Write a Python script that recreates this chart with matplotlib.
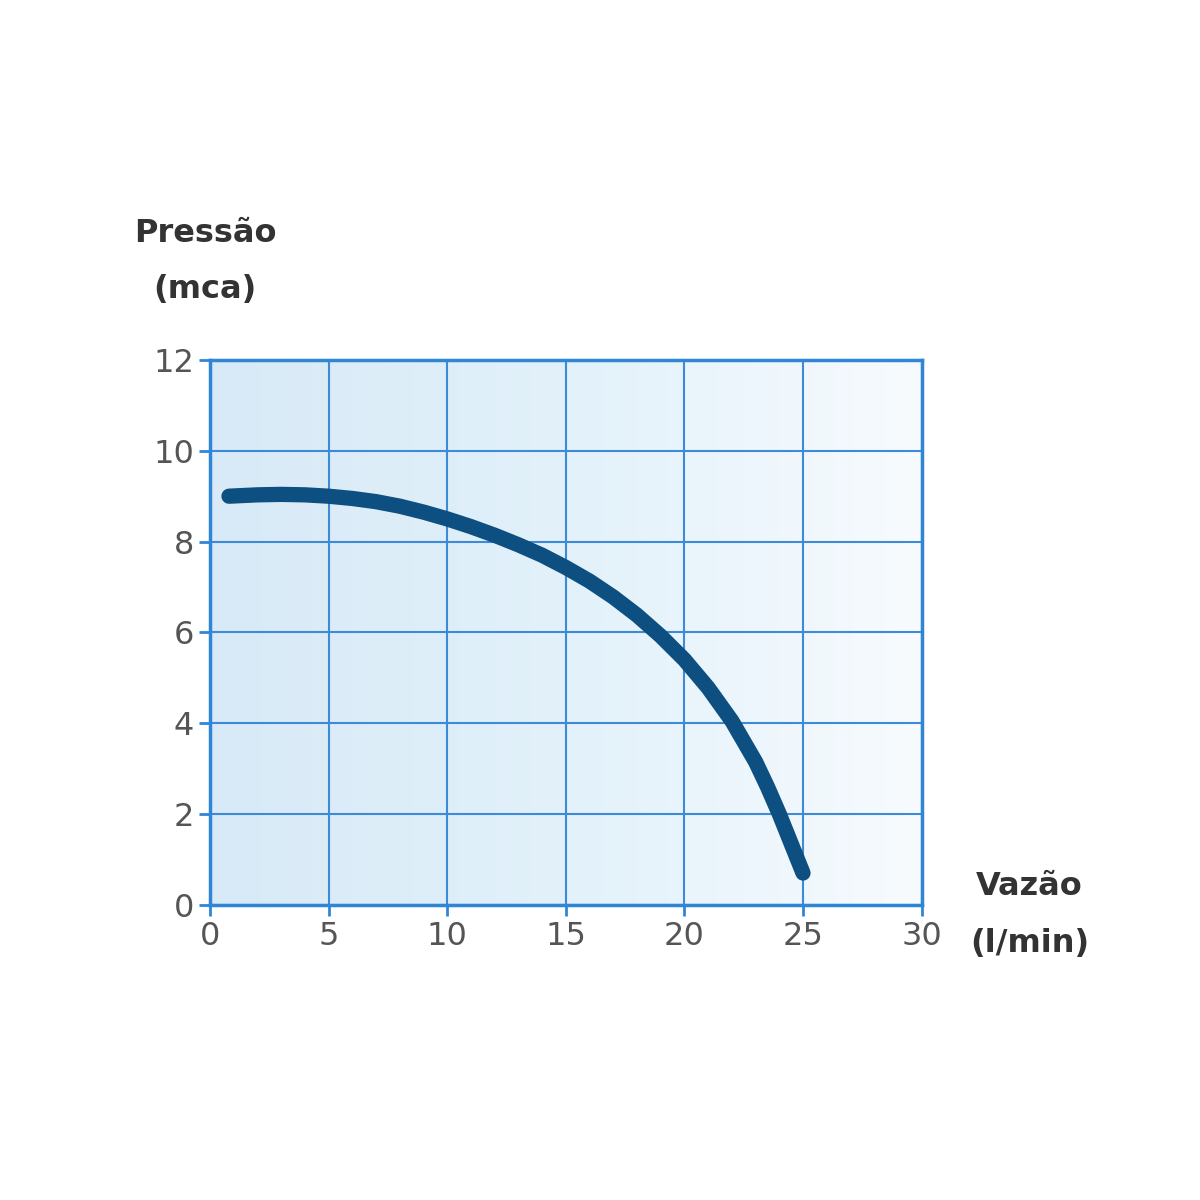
import numpy as np
import matplotlib
matplotlib.use("Agg")
import matplotlib.pyplot as plt
from matplotlib.colors import LinearSegmentedColormap

vazao = [0.8, 2, 3, 4, 5, 6, 7, 8, 9, 10, 11, 12, 13, 14, 15, 16, 17, 18, 19, 20, 21, 22, 23, 23.5, 24, 24.5, 25]
pressao = [9.0, 9.03, 9.04, 9.03, 9.0, 8.95, 8.88, 8.78, 8.65, 8.5, 8.33, 8.14, 7.93, 7.7, 7.43, 7.13, 6.78, 6.38, 5.92, 5.4, 4.78, 4.05, 3.15, 2.6, 2.0, 1.35, 0.7]
xticks = [0, 5, 10, 15, 20, 25, 30]
yticks = [0, 2, 4, 6, 8, 10, 12]

fig = plt.figure(figsize=(12, 12), dpi=100)
ax = fig.add_axes([0.175, 0.246, 0.593, 0.454])
grad = np.linspace(0, 1, 256).reshape(1, -1)
cm = LinearSegmentedColormap.from_list("g", ["#d8eaf7", "#e2f1fa", "#f7fbfe"])
ax.imshow(grad, extent=[0, 30, 0, 12], aspect="auto", cmap=cm, zorder=0)
ax.set_xlim(0, 30)
ax.set_ylim(0, 12)
ax.set_xticks(xticks)
ax.set_yticks(yticks)
ax.grid(True, color="#3d8bd8", lw=1.5, zorder=1)
for s in ax.spines.values():
    s.set_color("#2f86d6"); s.set_linewidth(2.5)
ax.tick_params(colors="#2f86d6", length=8, width=2, labelsize=23, labelcolor="#555555")
ax.plot(vazao, pressao, color="#0d4f80", lw=11, solid_capstyle="round", solid_joinstyle="round", zorder=3)
fig.text(0.171, 0.798, "Pressão", fontsize=23, fontweight="bold", color="#333333", ha="center")
fig.text(0.171, 0.752, "(mca)", fontsize=23, fontweight="bold", color="#333333", ha="center")
fig.text(0.858, 0.254, "Vazão", fontsize=23, fontweight="bold", color="#333333", ha="center")
fig.text(0.858, 0.207, "(l/min)", fontsize=23, fontweight="bold", color="#333333", ha="center")
fig.savefig("out.png", dpi=100, facecolor="white")
